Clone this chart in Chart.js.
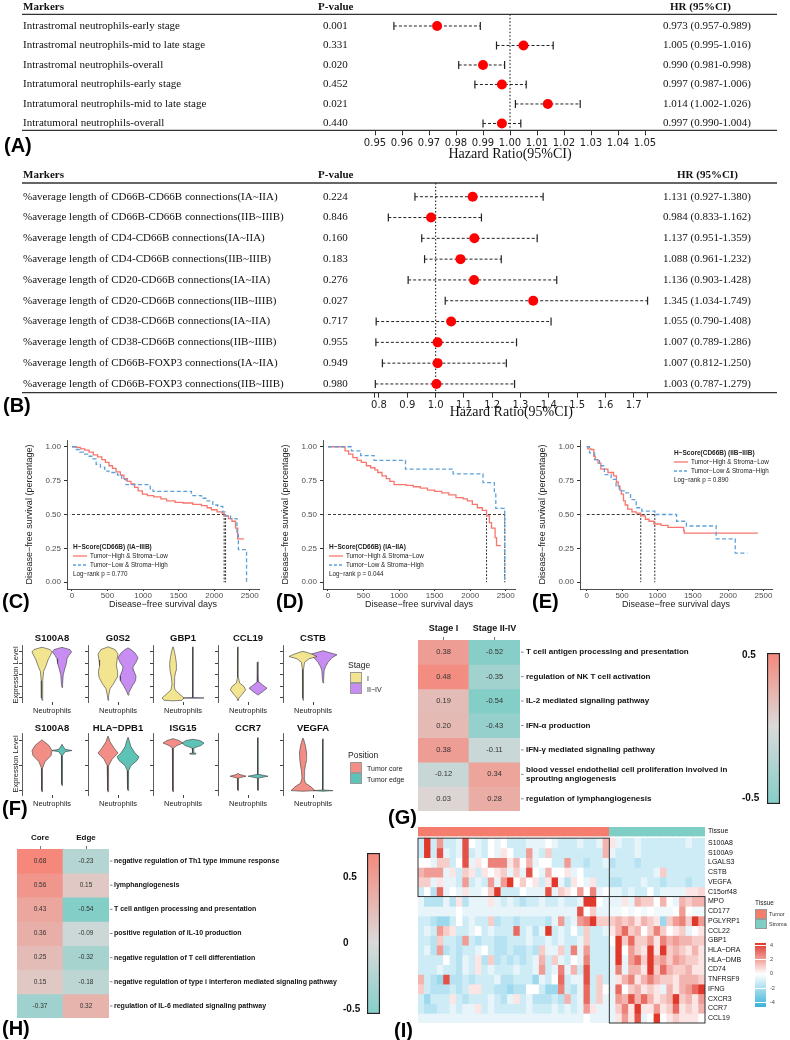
<!DOCTYPE html>
<html>
<head>
<meta charset="utf-8">
<script src="https://cdn.jsdelivr.net/npm/chart.js@4.4.1/dist/chart.umd.min.js"></script>
<style>
body { margin: 0; background: #fff; }
#page { position: relative; width: 790px; height: 1040px; overflow: hidden; font-family: "Liberation Sans", Arial, sans-serif; }
canvas { position: absolute; }
.t { position: absolute; white-space: nowrap; line-height: 1; color: #111; }
.sw { position: absolute; box-sizing: border-box; border: 0.5px solid #999; }
</style>
</head>
<body>
<div id="page"></div>
<script>
// ========== DATA: PANEL A (forest) ==========
const markersA = ['Intrastromal neutrophils-early stage', 'Intrastromal neutrophils-mid to late stage',
  'Intrastromal neutrophils-overall', 'Intratumoral neutrophils-early stage',
  'Intratumoral neutrophils-mid to late stage', 'Intratumoral neutrophils-overall'];
const pA = ['0.001', '0.331', '0.020', '0.452', '0.021', '0.440'];
const hrA = [0.973, 1.005, 0.990, 0.997, 1.014, 0.997];
const loA = [0.957, 0.995, 0.981, 0.987, 1.002, 0.990];
const hiA = [0.989, 1.016, 0.998, 1.006, 1.026, 1.004];
const ticksA = [0.95, 0.96, 0.97, 0.98, 0.99, 1.00, 1.01, 1.02, 1.03, 1.04, 1.05];
const tickLabelsA = ['0.95', '0.96', '0.97', '0.98', '0.99', '1.00', '1.01', '1.02', '1.03', '1.04', '1.05'];

// ========== DATA: PANEL B (forest) ==========
const markersB = ['%average length of CD66B-CD66B connections(IA~IIA)', '%average length of CD66B-CD66B connections(IIB~IIIB)',
  '%average length of CD4-CD66B connections(IA~IIA)', '%average length of CD4-CD66B connections(IIB~IIIB)',
  '%average length of CD20-CD66B connections(IA~IIA)', '%average length of CD20-CD66B connections(IIB~IIIB)',
  '%average length of CD38-CD66B connections(IA~IIA)', '%average length of CD38-CD66B connections(IIB~IIIB)',
  '%average length of CD66B-FOXP3 connections(IA~IIA)', '%average length of CD66B-FOXP3 connections(IIB~IIIB)'];
const pB = ['0.224', '0.846', '0.160', '0.183', '0.276', '0.027', '0.717', '0.955', '0.949', '0.980'];
const hrB = [1.131, 0.984, 1.137, 1.088, 1.136, 1.345, 1.055, 1.007, 1.007, 1.003];
const loB = [0.927, 0.833, 0.951, 0.961, 0.903, 1.034, 0.790, 0.789, 0.812, 0.787];
const hiB = [1.380, 1.162, 1.359, 1.232, 1.428, 1.749, 1.408, 1.286, 1.250, 1.279];
const ticksB = [0.785, 0.8, 0.9, 1.0, 1.1, 1.2, 1.3, 1.4, 1.5, 1.6, 1.7, 1.75];
const tickLabelsB = ['', '0.8', '0.9', '1.0', '1.1', '1.2', '1.3', '1.4', '1.5', '1.6', '1.7', ''];

// ========== DATA: KAPLAN-MEIER (C, D, E) ==========
const kmXTicks = [0, 500, 1000, 1500, 2000, 2500];
const kmYTicks = [0, 0.25, 0.5, 0.75, 1];
const kmNames = ['Tumor\u2212High & Stroma\u2212Low', 'Tumor\u2212Low & Stroma\u2212High'];

const cRedT = [0, 60, 120, 180, 240, 300, 360, 420, 470, 520, 570, 620, 680, 730, 780, 830, 880, 930, 990, 1060, 1150, 1250, 1330, 1450, 1560, 1700, 1820, 1900, 1960, 2040, 2110, 2140, 2200, 2250, 2300, 2330, 2420];
const cRedS = [1, 0.995, 0.985, 0.975, 0.96, 0.94, 0.925, 0.905, 0.885, 0.86, 0.84, 0.815, 0.79, 0.765, 0.745, 0.725, 0.70, 0.675, 0.65, 0.64, 0.63, 0.615, 0.60, 0.59, 0.585, 0.575, 0.565, 0.55, 0.535, 0.52, 0.51, 0.49, 0.47, 0.45, 0.40, 0.32, 0.32];
const cBlueT = [0, 50, 110, 160, 220, 280, 340, 400, 460, 520, 640, 700, 760, 1060, 1100, 1140, 1600, 1680, 1820, 1900, 1980, 2050, 2120, 2160, 2230, 2300, 2320, 2340, 2455];
const cBlueS = [1, 0.98, 0.96, 0.945, 0.93, 0.91, 0.87, 0.85, 0.82, 0.81, 0.79, 0.76, 0.72, 0.72, 0.69, 0.67, 0.67, 0.64, 0.62, 0.60, 0.57, 0.56, 0.52, 0.49, 0.47, 0.47, 0.37, 0.24, 0];
const cMedians = [2140, 2160];

const dRedT = [0, 210, 240, 290, 350, 410, 470, 540, 600, 660, 700, 760, 820, 870, 930, 1100, 1200, 1300, 1400, 1500, 1600, 1700, 1800, 1900, 1960, 2030, 2100, 2170, 2230, 2270, 2300, 2350, 2370, 2430];
const dRedS = [1, 1, 0.97, 0.945, 0.92, 0.90, 0.885, 0.86, 0.845, 0.83, 0.81, 0.785, 0.765, 0.745, 0.72, 0.715, 0.705, 0.695, 0.68, 0.67, 0.66, 0.645, 0.625, 0.615, 0.60, 0.575, 0.55, 0.53, 0.49, 0.44, 0.40, 0.33, 0.27, 0.27];
const dBlueT = [0, 230, 330, 460, 650, 1090, 1760, 2180, 2340, 2360, 2480, 2486];
const dBlueS = [1, 1, 0.97, 0.935, 0.90, 0.835, 0.80, 0.735, 0.65, 0.545, 0.53, 0];
const dMedians = [2230, 2486];

const eRedT = [0, 15, 60, 100, 120, 160, 200, 300, 380, 420, 445, 470, 490, 520, 545, 580, 640, 700, 764, 830, 880, 950, 1050, 1150, 1370, 1380, 2420];
const eRedS = [1, 0.985, 0.98, 0.93, 0.905, 0.88, 0.835, 0.81, 0.785, 0.74, 0.71, 0.68, 0.65, 0.60, 0.57, 0.54, 0.52, 0.51, 0.49, 0.465, 0.45, 0.43, 0.42, 0.405, 0.38, 0.363, 0.363];
const eBlueT = [0, 40, 110, 180, 250, 345, 415, 460, 530, 620, 700, 780, 963, 1270, 1410, 1830, 2100, 2270];
const eBlueS = [1, 0.955, 0.905, 0.86, 0.795, 0.76, 0.71, 0.675, 0.66, 0.61, 0.55, 0.525, 0.50, 0.45, 0.415, 0.32, 0.215, 0.215];
const eMedians = [764, 963];

// ========== DATA: VIOLINS (F) — [expression, half width] from bottom to top ==========
const vlnTopGenes = ['S100A8', 'G0S2', 'GBP1', 'CCL19', 'CSTB'];
const vlnTopStageI = [
  [[-0.2, 0], [0, 0.03], [1.5, 0.04], [2.3, 0.08], [2.8, 0.2], [3.3, 0.3], [3.7, 0.42], [4.0, 0.5], [4.2, 0.4], [4.35, 0.12], [4.4, 0]],
  [[-0.2, 0], [0.2, 0.03], [0.8, 0.1], [1.3, 0.3], [1.8, 0.45], [2.3, 0.48], [2.8, 0.42], [3.3, 0.45], [3.8, 0.5], [4.2, 0.35], [4.4, 0.06], [4.45, 0]],
  [[-0.25, 0], [-0.2, 0.45], [0, 0.55], [0.3, 0.35], [0.7, 0.1], [1.2, 0.05], [1.8, 0.08], [2.4, 0.15], [3.0, 0.17], [3.6, 0.12], [4.2, 0.05], [4.45, 0]],
  [[-0.25, 0], [0, 0.05], [0.3, 0.2], [0.7, 0.38], [1.0, 0.3], [1.3, 0.08], [1.8, 0.02], [4.4, 0.01], [4.45, 0]],
  [[-0.2, 0], [0, 0.02], [2.5, 0.03], [3.1, 0.08], [3.4, 0.3], [3.6, 0.7], [3.8, 0.45], [3.95, 0.2], [4.05, 0]]
];
const vlnTopStageII = [
  [[0.9, 0], [1.2, 0.03], [2.0, 0.06], [2.6, 0.15], [3.0, 0.22], [3.4, 0.25], [3.7, 0.35], [4.0, 0.48], [4.2, 0.4], [4.35, 0.1], [4.4, 0]],
  [[0.25, 0], [0.5, 0.05], [1.0, 0.2], [1.5, 0.38], [1.9, 0.4], [2.4, 0.28], [2.7, 0.25], [3.1, 0.4], [3.5, 0.5], [3.9, 0.35], [4.2, 0.15], [4.35, 0]],
  [[-0.02, 0], [0, 0.55], [0.03, 0.02], [4.4, 0.01], [4.45, 0]],
  [[0.25, 0], [0.5, 0.2], [0.85, 0.45], [1.1, 0.25], [1.4, 0.05], [2.0, 0.02], [3.1, 0.01], [3.15, 0]],
  [[1.3, 0], [1.6, 0.03], [2.4, 0.06], [2.7, 0.12], [3.1, 0.25], [3.5, 0.45], [3.75, 0.7], [3.95, 0.3], [4.1, 0]]
];
const vlnBotGenes = ['S100A8', 'HLA\u2212DPB1', 'ISG15', 'CCR7', 'VEGFA'];
const vlnBotCore = [
  [[-0.1, 0], [0, 0.02], [1.8, 0.03], [2.3, 0.15], [2.8, 0.45], [3.2, 0.5], [3.6, 0.35], [3.9, 0.12], [4.05, 0]],
  [[-0.1, 0], [0, 0.02], [2.0, 0.04], [2.5, 0.2], [3.0, 0.5], [3.4, 0.3], [3.9, 0.1], [4.3, 0.02], [4.35, 0]],
  [[-0.1, 0], [0, 0.02], [3.4, 0.03], [3.6, 0.2], [3.8, 0.5], [4.0, 0.3], [4.15, 0]],
  [[0, 0], [0.05, 0.02], [1.0, 0.03], [1.15, 0.4], [1.3, 0.05], [1.4, 0]],
  [[-0.05, 0], [0, 0.6], [0.3, 0.4], [0.6, 0.12], [1.0, 0.05], [1.6, 0.08], [2.3, 0.15], [3.0, 0.18], [3.6, 0.12], [4.1, 0.03], [4.2, 0]]
];
const vlnBotEdge = [
  [[0.4, 0], [0.5, 0.02], [2.8, 0.03], [3.1, 0.15], [3.2, 0.5], [3.3, 0.15], [3.6, 0.03], [3.7, 0]],
  [[0, 0], [0.1, 0.02], [1.6, 0.04], [2.0, 0.15], [2.4, 0.45], [2.7, 0.55], [3.0, 0.35], [3.5, 0.15], [4.2, 0.02], [4.25, 0]],
  [[2.9, 0], [2.92, 0.15], [2.97, 0.15], [3.0, 0.02], [3.4, 0.04], [3.6, 0.4], [3.8, 0.55], [4.0, 0.35], [4.1, 0]],
  [[0, 0], [0.05, 0.01], [1.0, 0.02], [1.15, 0.5], [1.3, 0.02], [4.2, 0.01], [4.25, 0]],
  [[-0.05, 0], [0, 0.5], [0.05, 0.02], [4.1, 0.01], [4.15, 0]]
];
const vlnTopTicks = [0, 1, 2, 3, 4];
const vlnBotTicks = [0, 2, 4];

// ========== DATA: HEATMAP G ==========
const gCols = ['Stage I', 'Stage II-IV'];
const gRows = ['T cell antigen processing and presentation', 'regulation of NK T cell activation',
  'IL-2 mediated signaling pathway', 'IFN-\u03b1 production', 'IFN-\u03b3 mediated signaling pathway',
  ['blood vessel endothelial cell proliferation involved in', 'sprouting angiogenesis'], 'regulation of lymphangiogenesis'];
const gStageI = [0.38, 0.48, 0.19, 0.20, 0.38, -0.12, 0.03];
const gStageII = [-0.52, -0.35, -0.54, -0.43, -0.11, 0.34, 0.28];
const gBarRange = [-0.542, 0.514];
const gBarTicks = [0.5, 0, -0.5];
const gBarLabels = ['0.5', '', '-0.5'];

// ========== DATA: HEATMAP H ==========
const hCols = ['Core', 'Edge'];
const hRows = ['negative regulation of Th1 type immune response', 'lymphangiogenesis',
  'T cell antigen processing and presentation', 'positive regulation of IL-10 production',
  'negative regulation of T cell differentiation', 'negative regulation of type i interferon mediated signaling pathway',
  'regulation of IL-6 mediated signaling pathway'];
const hCore = [0.68, 0.56, 0.43, 0.36, 0.25, 0.15, -0.37];
const hEdge = [-0.23, 0.15, -0.54, -0.09, -0.32, -0.18, 0.32];
const hBarRange = [-0.538, 0.68];
const hBarTicks = [0.5, 0, -0.5];
const hBarLabels = ['0.5', '0', '-0.5'];

// ========== DATA: HEATMAP I ==========
const iTumorCols = 30;
const iStromaCols = 15;
const iGenes = ['S100A8', 'S100A9', 'LGALS3', 'CSTB', 'VEGFA', 'C15orf48', 'MPO', 'CD177', 'PGLYRP1', 'CCL22',
  'GBP1', 'HLA\u2212DRA', 'HLA\u2212DMB', 'CD74', 'TNFRSF9', 'IFNG', 'CXCR3', 'CCR7', 'CCL19'];
const iMatrix = [
  [-1,4,-1,2,-1,-1,-0.5,3.5,0,-0.5, -1,0,-0.5,0,-1,-1,-1,-0.5,-0.5,-0.5, 0,-0.5,-1,-1,-1,-0.5,-1,-1,-0.5,1.5, 0.5,-0.5,-1,-1,-0.5,-1,-1,-1,-1,-1,-1,-1,-0.5,-1,-1],
  [-1,4,-1,3.5,-0.5,-1,-0.5,3.5,-1,-0.5, -1,0,-0.5,0.5,0,-1,-1,2,-0.5,-1, 1,-1,-1,-1,-1,-1,-1,-1,-1,1.5, -0.5,-1,-1,-1,-0.5,-1,-1,-1,-1,-1,-1,-1,-1,-1,-1],
  [0,0,-0.5,1,1,-1,0,3.5,-0.5,0.5, 0,2.5,2.5,2.5,0.5,1.5,0,1.5,-0.5,0, 0,-1,-1,2,-1,-1,-1.5,-1,-1,-0.5, -1.5,-1,-1,-1,-1.5,-1,-1,-1,-1,-1,-1,-1,-1,-1,-1],
  [1.5,2,2,2,-0.5,0.5,-1,1,0.5,-1, 0.5,0,0.5,1,-0.5,1,-0.5,3.5,0,-0.5, 1.5,0,0,0.5,-0.5,0,-1,-1,-1,-1, -1,-1,-1,-1,-1,-1,-1,-0.5,1,-1,-1,-1,-1,-1,-1],
  [1,1,-0.5,0.5,-0.5,-0.5,-1,2,-1,-0.5, -1,2,-0.5,2,4,0,1,0,0.5,-1, 0.5,4,-0.5,-1.5,0.5,0,-0.5,0.5,-1,-1, -1.5,-1.5,-1,-1,-1,-0.5,-1,-1,-1.5,-1,-1,-1,-1.5,-1,-1],
  [-1,0,-1.5,3,-0.5,0,-0.5,0.5,-0.5,-0.5, 0,1,4,-1,-1,-1,0,-0.5,-0.5,-0.5, 3.5,-0.5,1,0.5,0,2,0,2.5,-0.5,0, -0.5,-0.5,-1,-0.5,-1,-1,0,-1,-0.5,-0.5,-0.5,-0.5,0.5,0.5,0.8],
  [-0.5,-1.5,-1.5,-1.5,-0.5,-1.5,0.5,-1.5,-0.5,-0.5, -0.5,0.5,-0.5,-1,-0.5,-1,-1.5,-1,-1,-0.5, -1,-1,-0.5,-1,-1,-0.5,4,4,0,-0.5, -0.5,-0.5,0.5,-0.5,1.5,1,1,0,1.5,0,-0.5,1.5,1,1.5,1.5],
  [-0.5,-0.5,-0.5,-0.5,-0.5,-0.5,0,-0.5,-0.5,-0.5, -0.5,-0.5,-0.5,-0.5,-0.5,-0.5,-0.5,-0.5,-0.5,-0.5, -0.5,-0.5,-0.5,-0.5,-0.5,3.5,0,1,-0.5,-0.5, -0.3,-0.3,0,-0.3,0,-0.3,0,-0.3,-0.3,-0.3,0,2,0,-0.3,-0.3],
  [-1,-1,-1.5,-2,-2,-1,0,-1,-0.5,-1, -1,1,-1.5,-1,-1,-1.5,-1,-1,-1,-1, -1.5,-0.5,2,-1,-0.5,2,2.5,4,1,1, 1,1.5,1,1.5,0.5,1.5,1,0.5,-2,1,2,2.5,1,4,2],
  [-1,-0.5,-1,2,1,0.5,-1,-1,-0.5,0, -1,-0.5,-1,-1,-1,3,-1,-0.5,-1.5,-0.5, 4,-1,-0.5,-1,0,-1,1,-1,-1,-0.5, 0.5,1.5,3,1,1.5,0,1,2.5,1,0,0.5,1,-0.5,0,0.5],
  [-1,-1,-1.5,1,-1,-1,-1.5,2,-1,-1.5, -1,-1,-1.5,-1.5,-1,-1,-1,-0.5,-1,-1, -0.5,-1,-0.5,-1,-1,-0.5,1,-1,-1,-1, 0,4,1,3,1,1,2,0.5,2.5,1.5,2,1.5,1.5,1,1],
  [-1,-0.5,-1.5,2,-1.5,-1,-1.5,-1,-1,-0.5, 0,-1,-1.5,-1.5,-1,-1.5,-1.5,-1,-1.5,1, -0.5,-0.5,1,-1,2.5,-0.5,2,-1,-1,-1, -0.5,4,0,2,1,0.5,4,0.5,4,1,1.5,1,0.5,1.5,0.5],
  [-1,-1,-1,-1,0,-1,-1.5,-0.5,-1,0.5, -1.5,1,-1.5,-1,-1.5,-1,-1.5,-1,-0.5,1.5, -1,1,-0.5,-1,0,-0.5,2.5,-1,-1,-1, -0.5,4,-0.5,2,3,1,4,1.5,2,1,2,1.5,1,1,0.5],
  [-1,-1,-1,-0.5,-1,-1,-1.5,-0.5,-1,0.5, -1,-0.5,-1,-1,-1,-0.5,-1,-1,-0.5,2, -1,-0.5,2.5,-0.5,1.5,-1,3.5,-1,-1,-1, -0.5,2.5,-0.5,1.5,1.5,0.5,4,1,3,1.5,1,1,1.5,0.5,0.5],
  [1.5,-1,-1.5,-2,3.5,-1.5,-1.5,-1,-1.5,-1, -1,-1,-0.5,-1.5,-1.5,-1,-1,-1,-2,-0.5, -1,0,3,-1,-0.5,-0.5,3.5,-1,1,-1, -0.5,0.5,1.5,2.5,0.5,1.5,2.5,1.5,1,1,0.5,1.5,1.5,1.5,1],
  [1,-1,-1.5,-1.5,-1.5,-1,-1.5,-1,0.5,0.5, -1,-1,-1.5,-1.5,-2,-1.5,-1.5,0,0,-1, -2,-2,2.5,-1,-1.5,-0.5,3,-1,1,0, -0.5,3,0,1,1.5,0.5,1,0.5,-0.5,1.5,0.5,1.5,2,3,4],
  [-1,-2,-1,-1,-1,0.5,-1,-1.5,-1,-1, -1,-0.5,-1,-1.5,-0.5,0.5,-1,-0.5,-1.5,-1.5, -1.5,-1,-1.5,1.5,-1,-0.5,3,-1,1,-0.5, -0.5,2,1.5,3.5,1.5,3,1.5,0.5,1,1.5,4,1,1.5,0.5,2],
  [-1,-1.5,-1.5,-1,-1,-0.5,-1,-0.5,-0.5,0.5, -1,-0.5,-1,-1,-1,-1,-1,-0.5,-1,-1, -1,-0.5,-1,-0.5,-1,-0.5,2,0.5,-0.5,-0.5, -0.5,1,2.5,0.5,4,0.5,0.5,2,0.5,1,3,0.5,1,0.5,1.5],
  [-0.5,-0.5,-0.5,-0.5,-0.5,-0.5,-0.5,-0.5,-0.5,-0.5, -0.5,-0.5,-0.5,-0.5,-0.5,-0.5,-0.5,-0.5,-0.5,-0.5, -0.5,-0.5,-0.5,-0.5,-0.5,-0.5,0,-0.5,-0.5,-0.5, -0.5,0.5,2,0.5,3.5,-0.5,0,4,0,0.5,1,0.5,0.5,0.5,0]
];
const iBoxes = [{c0: 0, c1: 29, r0: 0, r1: 5}, {c0: 30, c1: 44, r0: 6, r1: 18}];
const iBarRange = [-4.7, 4.4];
const iBarTicks = [4, 2, 0, -2, -4];
const iBarLabels = ['4', '2', '0', '-2', '-4'];

// ========== COLOURS ==========
const kmRed = '#F8766D', kmBlue = '#5EA1DA';
const colStageI = '#F3E58F', colStageII = '#C88DF2', colCore = '#F28E86', colEdge = '#5DC3B6';
const HOT = '#F5887B', GREY = '#DADADA', COLD = '#84CEC8';
const I_RED = '#E0382B', I_BLUE = '#3BB2D9';
const colTumor = '#F47D6E', colStroma = '#7ECEC5';

function hex(c) { return [1, 3, 5].map(i => parseInt(c.slice(i, i + 2), 16)); }
function mix(a, b, t) {
  const A = hex(a), B = hex(b);
  return 'rgb(' + A.map((v, i) => Math.round(v + (B[i] - v) * t)).join(',') + ')';
}
function divColor(v, lo, hi) {
  return v >= 0 ? mix(GREY, HOT, Math.min(1, v / hi)) : mix(GREY, COLD, Math.min(1, v / lo));
}
function iColor(v) {
  return v >= 0 ? mix('#FFFFFF', I_RED, Math.min(1, v / 4)) : mix('#FFFFFF', I_BLUE, Math.min(1, -v / 4));
}

// ========== SETUP ==========
Chart.defaults.font.family = '"Liberation Sans", Arial, sans-serif';
Chart.defaults.color = '#222';
Chart.defaults.animation = false;
Chart.defaults.responsive = false;
Chart.defaults.devicePixelRatio = 1;
Chart.defaults.events = [];
Chart.defaults.plugins.legend.display = false;
Chart.defaults.plugins.tooltip.enabled = false;

const page = document.getElementById('page');

function mkCanvas(x, y, w, h) {
  const c = document.createElement('canvas');
  c.width = w; c.height = h;
  c.style.left = x + 'px'; c.style.top = y + 'px';
  c.style.width = w + 'px'; c.style.height = h + 'px';
  page.appendChild(c);
  return c;
}

function txt(s, x, y, style, ax, rot) {
  const d = document.createElement('div');
  d.className = 't';
  d.textContent = s;
  d.style.cssText += 'left:' + x + 'px;top:' + y + 'px;' + (style || '') +
    ';transform:translate(' + (-(ax || 0) * 100) + '%,-50%)' + (rot ? ' rotate(-90deg)' : '') + ';';
  if (rot) d.style.transformOrigin = '50% 50%';
  page.appendChild(d);
  return d;
}

function swatch(x, y, w, h, color) {
  const d = document.createElement('div');
  d.className = 'sw';
  d.style.cssText += 'left:' + x + 'px;top:' + y + 'px;width:' + w + 'px;height:' + h + 'px;background:' + color + ';';
  page.appendChild(d);
}

// ========== PLUGINS ==========
const forestTable = {
  id: 'forestTable',
  afterDraw(chart, args, o) {
    const { ctx, chartArea: a, scales: { y } } = chart;
    ctx.save();
    ctx.fillStyle = '#111';
    ctx.textBaseline = 'middle';
    ctx.textAlign = 'left';
    ctx.font = 'bold 11px "Liberation Serif"';
    ctx.fillText('Markers', o.xName, o.headY);
    ctx.fillText('P-value', o.xPH, o.headY);
    ctx.fillText('HR (95%CI)', o.xHRH, o.headY);
    ctx.font = '11px "Liberation Serif"';
    o.names.forEach((n, i) => {
      const py = y.getPixelForValue(i);
      ctx.fillText(n, o.xName, py);
      ctx.fillText(o.pv[i], o.xP, py);
      ctx.fillText(o.hrText[i], o.xHR, py);
    });
    ctx.strokeStyle = '#333';
    ctx.lineWidth = 1.3;
    [a.top, a.bottom].forEach(py => {
      ctx.beginPath(); ctx.moveTo(o.lineL, py); ctx.lineTo(o.lineR, py); ctx.stroke();
    });
    ctx.restore();
  }
};

const kmLegend = {
  id: 'kmLegend',
  afterDatasetsDraw(chart, args, o) {
    const { ctx, chartArea: a } = chart;
    const x = a.left + o.dx, y = a.top + o.dy;
    ctx.save();
    ctx.textBaseline = 'middle'; ctx.textAlign = 'left'; ctx.fillStyle = '#222';
    ctx.font = 'bold 6.5px "Liberation Sans"';
    ctx.fillText(o.title, x, y);
    ctx.font = '6.3px "Liberation Sans"';
    ctx.lineWidth = 1.3;
    ctx.strokeStyle = kmRed;
    ctx.beginPath(); ctx.moveTo(x, y + 9); ctx.lineTo(x + 14, y + 9); ctx.stroke();
    ctx.fillText(kmNames[0], x + 17, y + 9);
    ctx.setLineDash([3, 2]);
    ctx.strokeStyle = kmBlue;
    ctx.beginPath(); ctx.moveTo(x, y + 18); ctx.lineTo(x + 14, y + 18); ctx.stroke();
    ctx.setLineDash([]);
    ctx.fillText(kmNames[1], x + 17, y + 18);
    ctx.fillText(o.p, x, y + 27);
    ctx.restore();
  }
};

const vlnFill = {
  id: 'vlnFill',
  beforeDatasetDraw(chart, args) {
    const ds = chart.data.datasets[args.index];
    const pts = args.meta.data;
    if (!ds.fillColor || !pts.length) return;
    const ctx = chart.ctx;
    ctx.save();
    ctx.beginPath();
    pts.forEach((p, i) => i ? ctx.lineTo(p.x, p.y) : ctx.moveTo(p.x, p.y));
    ctx.closePath();
    ctx.fillStyle = ds.fillColor;
    ctx.fill();
    ctx.restore();
  }
};

const heatLabels = {
  id: 'heatLabels',
  afterDatasetsDraw(chart, args, o) {
    const { ctx, chartArea: a } = chart;
    ctx.save();
    chart.data.datasets.forEach((ds, i) => {
      const meta = chart.getDatasetMeta(i);
      if (ds.cellText) {
        ctx.font = o.cellFont; ctx.fillStyle = '#333';
        ctx.textAlign = 'center'; ctx.textBaseline = 'middle';
        meta.data.forEach((bar, j) => {
          const c = bar.getCenterPoint();
          ctx.fillText(ds.cellText[j], c.x, c.y);
        });
      }
      if (ds.rowLabel) {
        const cy = meta.data[0].getCenterPoint().y;
        if (o.tick) {
          ctx.strokeStyle = '#666'; ctx.lineWidth = 0.8;
          ctx.beginPath(); ctx.moveTo(a.right + 1, cy); ctx.lineTo(a.right + 3.5, cy); ctx.stroke();
        }
        ctx.font = o.labelFont; ctx.fillStyle = '#111';
        ctx.textAlign = 'left'; ctx.textBaseline = 'middle';
        const lines = [].concat(ds.rowLabel);
        lines.forEach((l, k) => ctx.fillText(l, a.right + o.gap, cy + (k - (lines.length - 1) / 2) * o.lineH));
      }
    });
    (o.boxes || []).forEach(b => {
      const m0 = chart.getDatasetMeta(b.r0 + o.rowOffset).data;
      const m1 = chart.getDatasetMeta(b.r1 + o.rowOffset).data;
      const left = m0[b.c0].x - m0[b.c0].width / 2;
      const right = m0[b.c1].x + m0[b.c1].width / 2;
      const top = Math.min(m0[0].y, m0[0].base);
      const bottom = Math.max(m1[0].y, m1[0].base);
      ctx.strokeStyle = '#333'; ctx.lineWidth = 1;
      ctx.strokeRect(left, top, right - left, bottom - top);
    });
    ctx.restore();
  }
};

// ========== FOREST PLOTS ==========
function forestChart(top, h, o) {
  const cv = mkCanvas(0, top, 790, h);
  const ds = [{
    data: [{ x: 1, y: o.ymin }, { x: 1, y: o.ymax }], showLine: true, borderColor: '#333',
    borderWidth: 1.2, borderDash: [1.5, 2], pointRadius: 0, order: 3, clip: false
  }];
  o.lo.forEach((lo, i) => ds.push({
    data: [{ x: lo, y: i }, { x: o.hi[i], y: i }], showLine: true, borderColor: '#222', borderWidth: 1,
    borderDash: [3, 2], pointStyle: 'line', rotation: 90, pointRadius: 4, pointBorderWidth: 1.2,
    pointBorderColor: '#222', order: 2, clip: false
  }));
  ds.push({
    data: o.hr.map((v, i) => ({ x: v, y: i })), pointRadius: 5, pointBackgroundColor: '#FF0000',
    pointBorderColor: '#FF0000', pointBorderWidth: 0, showLine: false, order: 1, clip: false
  });
  const fmt3 = v => v.toFixed(3);
  return new Chart(cv, {
    type: 'scatter',
    data: { datasets: ds },
    options: {
      layout: { padding: { left: o.left, right: o.right, top: o.top, bottom: 0 } },
      plugins: {
        forestTable: {
          names: o.names, pv: o.pv, hrText: o.hr.map((v, i) => fmt3(v) + ' (' + fmt3(o.lo[i]) + '-' + fmt3(o.hi[i]) + ')'),
          headY: o.headY, xName: 23, xP: 323, xPH: 318, xHR: 663, xHRH: o.xHRH, lineL: 22, lineR: 777
        }
      },
      scales: {
        x: {
          type: 'linear', min: o.xmin, max: o.xmax,
          afterBuildTicks: s => { s.ticks = o.ticks.map(v => ({ value: v })); },
          afterFit: s => { s.height = o.axisH; },
          ticks: {
            font: { family: 'DejaVu Sans', size: 10 }, color: '#222', padding: 2, maxRotation: 0, autoSkip: false,
            callback: (v, i) => o.tickLabels[i]
          },
          grid: { display: true, drawOnChartArea: false, drawTicks: true, tickLength: 5, color: '#333', tickWidth: 1 },
          border: { display: false },
          title: {
            display: true, text: 'Hazard Ratio(95%CI)', color: '#111',
            font: { family: '"Liberation Serif"', size: 14 }, padding: { top: 0, bottom: o.titlePad }
          }
        },
        y: { type: 'linear', min: o.ymin, max: o.ymax, reverse: true, display: false }
      }
    },
    plugins: [forestTable]
  });
}

forestChart(0, 165, {
  names: markersA, pv: pA, hr: hrA, lo: loA, hi: hiA, ticks: ticksA, tickLabels: tickLabelsA,
  xmin: 0.95, xmax: 1.05, ymin: -0.6, ymax: 5.35, left: 375, right: 145, top: 14.3, axisH: 34.7,
  titlePad: 2, headY: 7, xHRH: 670
});
forestChart(165, 260, {
  names: markersB, pv: pB, hr: hrB, lo: loB, hi: hiB, ticks: ticksB, tickLabels: tickLabelsB,
  xmin: 0.785, xmax: 1.75, ymin: -0.66, ymax: 9.42, left: 374.75, right: 142.15, top: 18, axisH: 32.3,
  titlePad: 4, headY: 10, xHRH: 677
});

// ========== KAPLAN-MEIER ==========
function kmChart(x, y, o) {
  const cv = mkCanvas(x, y, 265, 185);
  const pts = (t, s) => t.map((v, i) => ({ x: v, y: s[i] }));
  const ds = [
    { data: pts(o.redT, o.redS), borderColor: kmRed, borderWidth: 1.3, stepped: true, order: 1 },
    { data: pts(o.blueT, o.blueS), borderColor: kmBlue, borderWidth: 1.3, borderDash: [4, 2.5], stepped: true, order: 0 },
    { data: [{ x: 0, y: 0.5 }, { x: Math.max(...o.med), y: 0.5 }], borderColor: '#222', borderWidth: 0.9, borderDash: [3, 2], order: 2 }
  ];
  o.med.forEach(m => ds.push({ data: [{ x: m, y: 0.5 }, { x: m, y: 0 }], borderColor: '#333', borderWidth: 1, borderDash: [2, 1.5], order: 2 }));
  ds.forEach(d => { d.showLine = true; d.pointRadius = 0; });
  return new Chart(cv, {
    type: 'scatter',
    data: { datasets: ds },
    options: {
      layout: { padding: { left: 20, right: 6, top: 15, bottom: 0 } },
      plugins: { kmLegend: { dx: o.lx, dy: o.ly, title: o.title, p: o.p } },
      scales: {
        x: {
          type: 'linear', min: o.xmin, max: o.xmax,
          afterBuildTicks: s => { s.ticks = kmXTicks.map(v => ({ value: v })); },
          afterFit: s => { s.height = 21; },
          ticks: { font: { size: 8 }, color: '#4D4D4D', padding: 0, maxRotation: 0, callback: v => String(v) },
          grid: { drawOnChartArea: false, tickLength: 2, color: '#333' },
          border: { display: true, color: '#222', width: 0.8 },
          title: { display: true, text: 'Disease\u2212free survival days', font: { size: 9 }, color: '#222', padding: { top: 0, bottom: 0 } }
        },
        y: {
          type: 'linear', min: -0.05, max: 1.05,
          afterBuildTicks: s => { s.ticks = kmYTicks.map(v => ({ value: v })); },
          afterFit: s => { s.width = 47; },
          ticks: { font: { size: 8 }, color: '#4D4D4D', padding: 3, callback: v => v.toFixed(2) },
          grid: { drawOnChartArea: false, tickLength: 3, color: '#333' },
          border: { display: true, color: '#222', width: 0.8 },
          title: { display: true, text: 'Disease\u2212free survival (percentage)', font: { size: 9 }, color: '#222', padding: { top: 4, bottom: 0 } }
        }
      }
    },
    plugins: [kmLegend]
  });
}

kmChart(0, 425, { redT: cRedT, redS: cRedS, blueT: cBlueT, blueS: cBlueS, med: cMedians, xmin: -70, xmax: 2630,
  lx: 6, ly: 107, title: 'H\u2212Score(CD66B) (IA~IIIB)', p: 'Log\u2212rank p = 0.770' });
kmChart(256, 425, { redT: dRedT, redS: dRedS, blueT: dBlueT, blueS: dBlueS, med: dMedians, xmin: -70, xmax: 2630,
  lx: 6, ly: 107, title: 'H\u2212Score(CD66B) (IA~IIA)', p: 'Log\u2212rank p = 0.044' });
kmChart(513, 425, { redT: eRedT, redS: eRedS, blueT: eBlueT, blueS: eBlueS, med: eMedians, xmin: -95, xmax: 2620,
  lx: 94, ly: 13, title: 'H\u2212Score(CD66B) (IIB~IIIB)', p: 'Log\u2212rank p = 0.890' });

// ========== VIOLINS ==========
const vlnAxisX = [22, 88, 153, 218, 283];

function vlnChart(ax, top, h, plotH, profA, profB, colA, colB, yTicks) {
  const cv = mkCanvas(ax - 22, top, 84, h);
  const outline = (prof, cx) => prof.map(([y, w]) => ({ x: cx + w, y }))
    .concat(prof.slice().reverse().map(([y, w]) => ({ x: cx - w, y })));
  const base = { showLine: true, borderColor: '#3a3a3a', borderWidth: 0.6, pointRadius: 0, clip: false };
  return new Chart(cv, {
    type: 'scatter',
    data: {
      datasets: [
        Object.assign({ data: outline(profA, 1), fillColor: colA }, base),
        Object.assign({ data: outline(profB, 2), fillColor: colB }, base)
      ]
    },
    options: {
      layout: { padding: { left: 0, right: 2, top: 19, bottom: 0 } },
      scales: {
        x: {
          type: 'linear', min: 0, max: 3,
          afterBuildTicks: s => { s.ticks = [{ value: 1.5 }]; },
          afterFit: s => { s.height = h - 19 - plotH; },
          ticks: { font: { size: 7.5 }, color: '#222', padding: 1, maxRotation: 0, callback: () => 'Neutrophils' },
          grid: { drawOnChartArea: false, tickLength: 3, color: '#444' },
          border: { display: false }
        },
        y: {
          type: 'linear', min: -0.35, max: 4.6,
          afterBuildTicks: s => { s.ticks = yTicks.map(v => ({ value: v })); },
          afterFit: s => { s.width = 22; },
          ticks: { display: false },
          grid: { drawOnChartArea: false, tickLength: 3, color: '#444' },
          border: { display: true, color: '#333', width: 0.8 }
        }
      }
    },
    plugins: [vlnFill]
  });
}

vlnAxisX.forEach((ax, i) => {
  vlnChart(ax, 626, 94, 57, vlnTopStageI[i], vlnTopStageII[i], colStageI, colStageII, vlnTopTicks);
  vlnChart(ax, 714, 100, 62, vlnBotCore[i], vlnBotEdge[i], colCore, colEdge, vlnBotTicks);
  txt(vlnTopGenes[i], ax + 30, 637, 'font:bold 9.5px "Liberation Sans"', 0.5);
  txt(vlnBotGenes[i], ax + 30, 727, 'font:bold 9.5px "Liberation Sans"', 0.5);
});
txt('Expression Level', 15, 675, 'font:7.5px "Liberation Sans";color:#222', 0.5, true);
txt('Expression Level', 15, 764, 'font:7.5px "Liberation Sans";color:#222', 0.5, true);

// violin legends
txt('Stage', 348, 665, 'font:8.5px "Liberation Sans";color:#222');
swatch(350, 672, 12, 10.5, colStageI);
txt('I', 367, 677.5, 'font:7px "Liberation Sans";color:#222');
swatch(350, 683, 12, 10.5, colStageII);
txt('II\u2212IV', 367, 688.5, 'font:7px "Liberation Sans";color:#222');
txt('Position', 348, 755, 'font:8.5px "Liberation Sans";color:#222');
swatch(350, 762, 12, 10.5, colCore);
txt('Tumor core', 367, 767.5, 'font:7px "Liberation Sans";color:#222');
swatch(350, 773, 12, 10.5, colEdge);
txt('Tumor edge', 367, 778.5, 'font:7px "Liberation Sans";color:#222');

// ========== HEATMAPS G / H ==========
function smallHeat(x, y, w, h, o) {
  const cv = mkCanvas(x, y, w, h);
  const datasets = o.rows.map((label, i) => ({
    data: o.cols.map(() => 1),
    backgroundColor: o.vals.map(col => divColor(col[i], o.range[0], o.range[1])),
    cellText: o.vals.map(col => col[i].toFixed(2)),
    rowLabel: label,
    borderWidth: 0, barPercentage: 1, categoryPercentage: 1
  }));
  return new Chart(cv, {
    type: 'bar',
    data: { labels: o.cols, datasets },
    options: {
      layout: { padding: o.pad },
      plugins: { heatLabels: { cellFont: o.cellFont, labelFont: o.labelFont, gap: o.gap, tick: true, lineH: 8.5 } },
      scales: {
        x: {
          stacked: true, position: 'top',
          afterFit: s => { s.height = o.axisH; },
          ticks: { font: { size: o.headSize, weight: 'bold' }, color: '#111', padding: 3, maxRotation: 0 },
          grid: { drawOnChartArea: false, drawTicks: true, tickLength: 3, color: '#777', offset: false },
          border: { display: false }
        },
        y: { stacked: true, reverse: true, min: 0, max: o.rows.length, display: false }
      }
    },
    plugins: [heatLabels]
  });
}

smallHeat(400, 615, 390, 200, {
  cols: gCols, rows: gRows, vals: [gStageI, gStageII], range: gBarRange,
  pad: { left: 18, right: 270, top: 0, bottom: 4 }, axisH: 25, headSize: 9,
  cellFont: '7.5px "Liberation Sans"', labelFont: 'bold 8px "Liberation Sans"', gap: 6
});
smallHeat(0, 815, 390, 225, {
  cols: hCols, rows: hRows, vals: [hCore, hEdge], range: hBarRange,
  pad: { left: 17, right: 281, top: 0, bottom: 22 }, axisH: 34, headSize: 8,
  cellFont: '6.5px "Liberation Sans"', labelFont: 'bold 7px "Liberation Sans"', gap: 5
});

// ========== COLOUR BARS ==========
function colorBar(x, y, w, h, o) {
  const cv = mkCanvas(x, y, w, h);
  return new Chart(cv, {
    type: 'bar',
    data: {
      labels: ['scale'],
      datasets: [{
        data: [[o.range[0], o.range[1]]],
        backgroundColor: ctx => {
          const { chart } = ctx;
          const a = chart.chartArea;
          if (!a) return null;
          const ys = chart.scales.y;
          const g = chart.ctx.createLinearGradient(0, a.top, 0, a.bottom);
          const f = v => (ys.getPixelForValue(v) - a.top) / (a.bottom - a.top);
          g.addColorStop(0, o.colors[0]);
          g.addColorStop(Math.max(0, Math.min(1, f(0))), o.colors[1]);
          g.addColorStop(1, o.colors[2]);
          return g;
        },
        borderColor: '#222', borderWidth: o.border, borderSkipped: false,
        barPercentage: 1, categoryPercentage: 1
      }]
    },
    options: {
      layout: { padding: o.pad },
      scales: {
        x: { display: false },
        y: {
          position: o.pos, min: o.range[0], max: o.range[1],
          afterBuildTicks: s => { s.ticks = o.ticks.map(v => ({ value: v })); },
          afterFit: s => { s.width = o.axisW; },
          ticks: { font: o.font, color: o.tickColor, padding: o.tickPad, crossAlign: o.cross, callback: (v, i) => o.labels[i] },
          grid: o.grid,
          border: { display: false }
        }
      }
    }
  });
}

colorBar(730, 645, 60, 170, {
  range: gBarRange, ticks: gBarTicks, labels: gBarLabels, colors: [HOT, GREY, COLD], border: 1.5,
  pad: { left: 12, right: 10, top: 8, bottom: 11 }, pos: 'left', axisW: 25, cross: 'far', tickPad: 0,
  font: { size: 10, weight: 'bold' }, tickColor: '#111', grid: { drawOnChartArea: false, drawTicks: false }
});
colorBar(330, 845, 60, 180, {
  range: hBarRange, ticks: hBarTicks, labels: hBarLabels, colors: [HOT, GREY, COLD], border: 1.5,
  pad: { left: 13, right: 10, top: 8, bottom: 11 }, pos: 'left', axisW: 24, cross: 'far', tickPad: 0,
  font: { size: 10, weight: 'bold' }, tickColor: '#111', grid: { drawOnChartArea: false, drawTicks: false }
});
colorBar(740, 935, 50, 80, {
  range: iBarRange, ticks: iBarTicks, labels: iBarLabels, colors: [I_RED, '#FFFFFF', I_BLUE], border: 0,
  pad: { left: 15, right: 10, top: 8, bottom: 8 }, pos: 'right', axisW: 14, cross: 'near', tickPad: 4,
  font: { size: 5.5 }, tickColor: '#444',
  grid: { drawOnChartArea: true, drawTicks: false, color: c => (c.tick && c.tick.value === 0) ? 'rgba(0,0,0,0)' : '#fff', lineWidth: 1, z: 1 }
});

// ========== HEATMAP I ==========
(function () {
  const cv = mkCanvas(400, 815, 390, 225);
  const nCols = iTumorCols + iStromaCols;
  const cols = [];
  const tissue = [];
  for (let i = 0; i < nCols; i++) {
    cols.push('c' + i);
    tissue.push(i < iTumorCols ? colTumor : colStroma);
  }
  const datasets = [
    { data: cols.map(() => 0.93), backgroundColor: tissue, rowLabel: 'Tissue' },
    { data: cols.map(() => 0.22), backgroundColor: 'rgba(0,0,0,0)' }
  ].concat(iGenes.map((g, r) => ({
    data: cols.map(() => 1),
    backgroundColor: iMatrix[r].map(iColor),
    rowLabel: g
  })));
  datasets.forEach(d => { d.borderWidth = 0; d.barPercentage = 1; d.categoryPercentage = 1; });
  new Chart(cv, {
    type: 'bar',
    data: { labels: cols, datasets },
    options: {
      layout: { padding: { left: 18, right: 85, top: 12, bottom: 17 } },
      plugins: {
        heatLabels: { labelFont: '7px "Liberation Sans"', gap: 3, tick: false, lineH: 8, boxes: iBoxes, rowOffset: 2 }
      },
      scales: {
        x: { stacked: true, display: false },
        y: { stacked: true, reverse: true, min: 0, max: 1.15 + iGenes.length, display: false }
      }
    },
    plugins: [heatLabels]
  });
})();

// I legend
txt('Tissue', 755, 902, 'font:6.5px "Liberation Sans";color:#222');
swatch(755, 909, 12, 9.5, colTumor);
txt('Tumor', 769, 914, 'font:5.5px "Liberation Sans";color:#333');
swatch(755, 919, 12, 9.5, colStroma);
txt('Stroma', 769, 924, 'font:5.5px "Liberation Sans";color:#333');

// ========== PANEL LETTERS ==========
const letterCss = 'font:bold 20px "Liberation Sans";color:#000';
txt('(A)', 4, 145, letterCss);
txt('(B)', 3, 405, letterCss);
txt('(C)', 2, 601, letterCss);
txt('(D)', 276, 601, letterCss);
txt('(E)', 532, 601, letterCss);
txt('(F)', 2, 808, letterCss);
txt('(G)', 388, 817, letterCss);
txt('(H)', 2, 1028, letterCss);
txt('(I)', 394, 1030, letterCss);
</script>
</body>
</html>
